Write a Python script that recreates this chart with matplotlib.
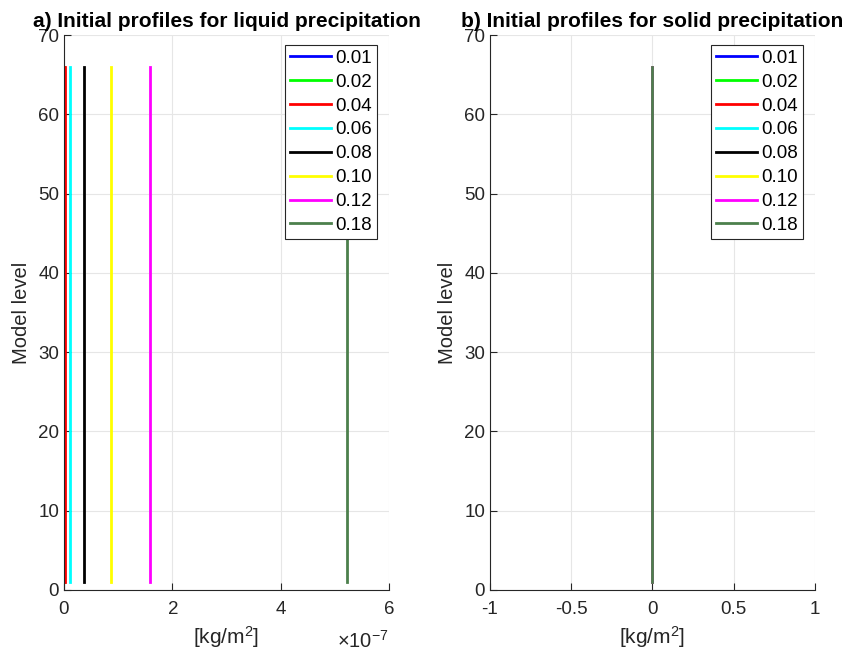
import numpy as np
import matplotlib
matplotlib.use("Agg")
import matplotlib.pyplot as plt
from matplotlib.ticker import ScalarFormatter

plt.rcParams['font.family'] = ['Liberation Sans', 'DejaVu Sans']
plt.rcParams['axes.unicode_minus'] = False
plt.rcParams['mathtext.fontset'] = 'custom'
plt.rcParams['mathtext.rm'] = 'Liberation Sans'
plt.rcParams['mathtext.it'] = 'Liberation Sans:italic'

# legend labels (precip rates) and colours
rates = ['0.01', '0.02', '0.04', '0.06', '0.08', '0.10', '0.12', '0.18']
colors = ['#0000ff', '#00ff00', '#ff0000', '#00ffff', '#000000', '#ffff00', '#ff00ff', '#4c804c']

# model levels where profiles are defined
levels = np.arange(1, 67)

# constant liquid precipitation value per profile [kg/m2]
liquid = [0.0005e-7, 0.003e-7, 0.01e-7, 0.11e-7, 0.37e-7, 0.86e-7, 1.58e-7, 5.23e-7]
# solid precipitation is zero everywhere
solid = [0, 0, 0, 0, 0, 0, 0, 0]

fig = plt.figure(figsize=(8.49, 6.57), dpi=100)
ax1 = fig.add_axes([0.0754, 0.102, 0.3828, 0.8447])
ax2 = fig.add_axes([0.5771, 0.102, 0.3828, 0.8447])

def style(ax):
    for s in ['top', 'right']:
        ax.spines[s].set_visible(False)
    for s in ['left', 'bottom']:
        ax.spines[s].set_color('#262626')
        ax.spines[s].set_linewidth(0.8)
    ax.tick_params(direction='in', labelsize=13.5, colors='#262626', length=5, width=0.8)
    ax.tick_params(axis='x', pad=8)
    ax.grid(True, color='#e6e6e6', linewidth=0.8)
    ax.set_axisbelow(True)
    ax.set_ylim(0, 70)
    ax.set_yticks(np.arange(0, 71, 10))
    ax.set_ylabel('Model level', fontsize=14.5, color='#262626', labelpad=5)
    ax.set_xlabel('[kg/m$^2$]', fontsize=15, color='#262626', labelpad=4)

for v, c, r in zip(liquid, colors, rates):
    ax1.plot(np.full(levels.shape, v), levels, color=c, lw=2, label=r)
for v, c, r in zip(solid, colors, rates):
    ax2.plot(np.full(levels.shape, v), levels, color=c, lw=2, label=r)

style(ax1)
ax1.set_xlim(0, 6e-7)
ax1.set_xticks([0, 2e-7, 4e-7, 6e-7])
fmt = ScalarFormatter(useMathText=True)
fmt.set_powerlimits((0, 0))
ax1.xaxis.set_major_formatter(fmt)
ax1.xaxis.get_offset_text().set_visible(False)
ax1.text(1.0, -0.092, '×10$^{-7}$', transform=ax1.transAxes, ha='right', va='center',
         fontsize=14.5, color='#262626')
ax1.set_title('a) Initial profiles for liquid precipitation', fontsize=15, fontweight='bold')

style(ax2)
ax2.set_xlim(-1, 1)
ax2.set_xticks([-1, -0.5, 0, 0.5, 1])
ax2.set_xticklabels(['-1', '-0.5', '0', '0.5', '1'])
ax2.set_title('b) Initial profiles for solid precipitation', fontsize=15, fontweight='bold')

for ax in (ax1, ax2):
    leg = ax.legend(loc='upper right', bbox_to_anchor=(0.963, 0.982), fontsize=13.5,
                    handlelength=2.2, handletextpad=0.25, labelspacing=0.36,
                    borderpad=0.25, borderaxespad=0, fancybox=False, framealpha=1)
    leg.get_frame().set_edgecolor('#262626')
    leg.get_frame().set_linewidth(0.8)

fig.savefig('out.png', dpi=100)
